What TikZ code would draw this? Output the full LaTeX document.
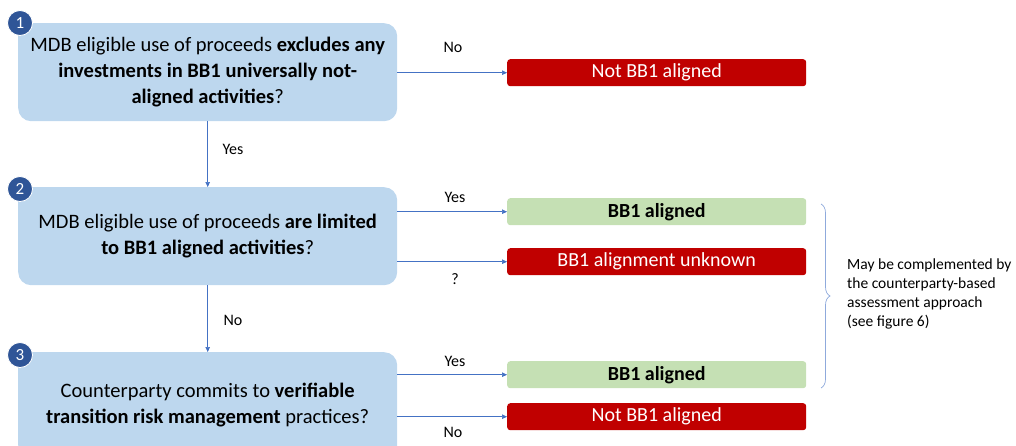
\documentclass[tikz,border=0pt]{standalone}
\usepackage{fontspec}
\setmainfont{Carlito}
\usetikzlibrary{arrows.meta,decorations.pathreplacing}
\definecolor{qfill}{HTML}{BDD7EE}
\definecolor{gfill}{HTML}{C5E0B4}
\definecolor{rfill}{HTML}{C00000}
\definecolor{arrblue}{HTML}{4472C4}
\definecolor{numblue}{HTML}{2F5597}
\definecolor{bracec}{HTML}{8FAADC}
\tikzset{
  qbox/.style={fill=qfill, rounded corners=13pt, minimum width=379pt, anchor=north west, align=center, inner sep=0pt, font=\fontsize{20.5}{26}\selectfont},
  gbox/.style={fill=gfill, rounded corners=3pt, minimum width=299pt, minimum height=27pt, anchor=north west, inner sep=0pt, font=\fontsize{20}{24}\selectfont\bfseries},
  rbox/.style={fill=rfill, rounded corners=3pt, minimum width=299pt, minimum height=27pt, anchor=north west, inner sep=0pt, text=white, font=\fontsize{20}{24}\selectfont},
  numc/.style={circle, fill=numblue, draw=white, line width=0.8pt, minimum size=25pt, inner sep=0pt, text=white, font=\fontsize{17}{20}\selectfont},
  arr/.style={draw=arrblue, line width=0.7pt, -{Triangle[length=5pt,width=4.5pt]}},
  lbl/.style={font=\fontsize{16}{19}\selectfont, inner sep=0pt}
}
\begin{document}
\begin{tikzpicture}[x=1pt,y=-1pt]
\useasboundingbox (0,0) rectangle (1016,445);
\clip (0,0) rectangle (1016,445);
% question boxes
\node[qbox, minimum height=98pt] (q1) at (18,23) {MDB eligible use of proceeds \textbf{excludes any}\\ \textbf{investments in BB1 universally not-}\\ \textbf{aligned activities}?};
\node[qbox, minimum height=98pt] (q2) at (18,187) {MDB eligible use of proceeds \textbf{are limited}\\ \textbf{to BB1 aligned activities}?};
\node[qbox, minimum height=106pt] (q3) at (18,352) {Counterparty commits to \textbf{verifiable}\\ \textbf{transition risk management} practices?};
% numbers
\node[numc] (n1) at (20,23) {1};
\node[numc] (n2) at (20,189) {2};
\node[numc] (n3) at (20,355) {3};
% outcomes
\node[rbox] (r1) at (507,59) {Not BB1 aligned};
\node[gbox] (g2) at (507,198) {BB1 aligned};
\node[rbox] (r2) at (507,248) {BB1 alignment unknown};
\node[gbox] (g3) at (507,361) {BB1 aligned};
\node[rbox] (r3) at (507,403) {Not BB1 aligned};
% arrows
\draw[arr] (q1.east |- r1.west) -- (r1.west);
\draw[arr] (q2.east |- g2.west) -- (g2.west);
\draw[arr] (q2.east |- r2.west) -- (r2.west);
\draw[arr] (q3.east |- g3.west) -- (g3.west);
\draw[arr] (q3.east |- r3.west) -- (r3.west);
\draw[arr] (q1.south) -- (q2.north);
\draw[arr] (q2.south) -- (q3.north);
% labels
\node[lbl] (l1) at (453,47) {No};
\node[lbl] (l2) at (233,149) {Yes};
\node[lbl] (l3) at (455,197) {Yes};
\node[lbl] (l4) at (455,279) {?};
\node[lbl] (l5) at (233,320) {No};
\node[lbl] (l6) at (455,361) {Yes};
\node[lbl] (l7) at (453,432) {No};
% brace
\coordinate (bt) at (821,204);
\coordinate (bb) at (821,388);
\draw[bracec, line width=0.7pt, decorate, decoration={brace, amplitude=9pt, raise=0pt}] (bt) -- (bb);
\node[anchor=west, align=left, inner sep=0pt, font=\fontsize{15.5}{19}\selectfont] (note) at (847,294) {May be complemented by\\ the counterparty-based\\ assessment approach\\ (see figure 6)};
\end{tikzpicture}
\end{document}
